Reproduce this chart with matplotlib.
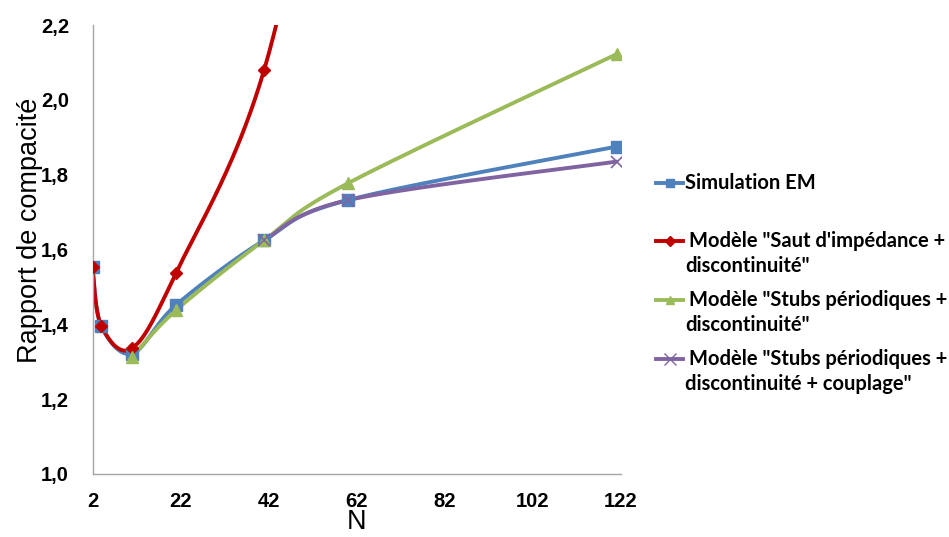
import numpy as np
import matplotlib
matplotlib.use("Agg")
import matplotlib.pyplot as plt
from matplotlib.lines import Line2D
from matplotlib.ticker import FuncFormatter

# ---- data ----
N_sim = [2, 4, 11, 21, 41, 60, 121]
sim = [1.552, 1.396, 1.322, 1.452, 1.625, 1.732, 1.875]
N_saut = [2, 4, 11, 21, 41, 60]
saut = [1.553, 1.396, 1.336, 1.538, 2.081, 3.1]
N_stubs = [11, 21, 41, 60, 121]
stubs = [1.313, 1.438, 1.625, 1.777, 2.122]
N_coupl = [41, 60, 121]
coupl = [1.625, 1.732, 1.835]

x_ticks = [2, 22, 42, 62, 82, 102, 122]
y_ticks = [1.0, 1.2, 1.4, 1.6, 1.8, 2.0, 2.2]

labels = ["Simulation EM",
          "Modèle \"Saut d'impédance +\ndiscontinuité\"",
          "Modèle \"Stubs périodiques +\ndiscontinuité\"",
          "Modèle \"Stubs périodiques +\ndiscontinuité + couplage\""]
colors = ["#4F81BD", "#C00000", "#9BBB59", "#8064A2"]
markers = ["s", "D", "^", "x"]
msizes = [8.5, 6.5, 9, 9]


def smooth(x, y, n=60):
    P = np.column_stack([x, y]).astype(float)
    pts = []
    for i in range(len(P) - 1):
        p0 = P[i - 1] if i > 0 else P[i]
        p1 = P[i]
        p2 = P[i + 1]
        p3 = P[i + 2] if i + 2 < len(P) else P[i + 1]
        c1 = p1 + (p2 - p0) / 6
        c2 = p2 - (p3 - p1) / 6
        t = np.linspace(0, 1, n)[:, None]
        seg = (1 - t) ** 3 * p1 + 3 * (1 - t) ** 2 * t * c1 + 3 * (1 - t) * t ** 2 * c2 + t ** 3 * p2
        pts.append(seg if i == 0 else seg[1:])
    s = np.vstack(pts)
    return s[:, 0], s[:, 1]


fig = plt.figure(figsize=(9.49, 5.37), dpi=100)
ax = fig.add_axes([92.5 / 949, 1 - 474 / 537, (621 - 92.5) / 949, (474 - 25) / 537])

series = [(N_sim, sim), (N_saut, saut), (N_stubs, stubs), (N_coupl, coupl)]
for i, ((xs, ys), c) in enumerate(zip(series, colors)):
    sx, sy = smooth(xs, ys)
    ax.plot(sx, sy, color=c, lw=2.8, zorder=2 + i * 0.1, solid_capstyle='round')
for i, ((xs, ys), c, m, ms) in enumerate(zip(series, colors, markers, msizes)):
    if m == "x":
        ax.plot(xs, ys, ls='none', marker=m, ms=ms, mec=c, mew=1.2, zorder=4 + i * 0.1)
    else:
        ax.plot(xs, ys, ls='none', marker=m, ms=ms, mfc=c, mec=c, zorder=4 + i * 0.1)

ax.set_xlim(2, 122)
ax.set_ylim(1.0, 2.2)
ax.set_xticks(x_ticks)
ax.set_yticks(y_ticks)
ax.yaxis.set_major_formatter(FuncFormatter(lambda v, p: f"{v:.1f}".replace('.', ',')))
ax.tick_params(length=0, labelsize=14.5)
ax.tick_params(axis='y', pad=17)
ax.tick_params(axis='x', pad=13)
for lab in ax.get_xticklabels() + ax.get_yticklabels():
    lab.set_fontweight('bold')
    lab.set_fontfamily('Liberation Sans')
for s in ['top', 'right']:
    ax.spines[s].set_visible(False)
for s in ['left', 'bottom']:
    ax.spines[s].set_color('#A6A6A6')
    ax.spines[s].set_linewidth(1.0)

fig.text(30 / 949, 1 - 230 / 537, "Rapport de compacité", rotation=90, ha='center', va='center',
         fontsize=19.5, family='Liberation Sans')
fig.text(357 / 949, 1 - 522 / 537, "N", ha='center', va='center', fontsize=19.5, family='Liberation Sans')

# legend drawn manually
ys_leg = [183, 241, 300, 359]
for lab, c, m, yl in zip(labels, colors, markers, ys_leg):
    yf = 1 - yl / 537
    fig.add_artist(Line2D([656 / 949, 683 / 949], [yf, yf], color=c, lw=2.8))
    if m == "x":
        fig.add_artist(Line2D([669.5 / 949], [yf], marker=m, ms=8, mec=c, mew=1.0, ls='none'))
    else:
        fig.add_artist(Line2D([669.5 / 949], [yf], marker=m, ms=6 if m != "D" else 5, mfc=c, mec=c, ls='none'))
    lines = lab.split("\n")
    fig.text((685 if len(lines) == 1 else 689) / 949, yf, lines[0], ha='left', va='center',
             fontsize=14.5, fontweight='bold', family='Lato')
    if len(lines) > 1:
        fig.text(685 / 949, 1 - (yl + 25) / 537, lines[1], ha='left', va='center',
                 fontsize=14.5, fontweight='bold', family='Lato')

fig.savefig("out.png", dpi=100)
